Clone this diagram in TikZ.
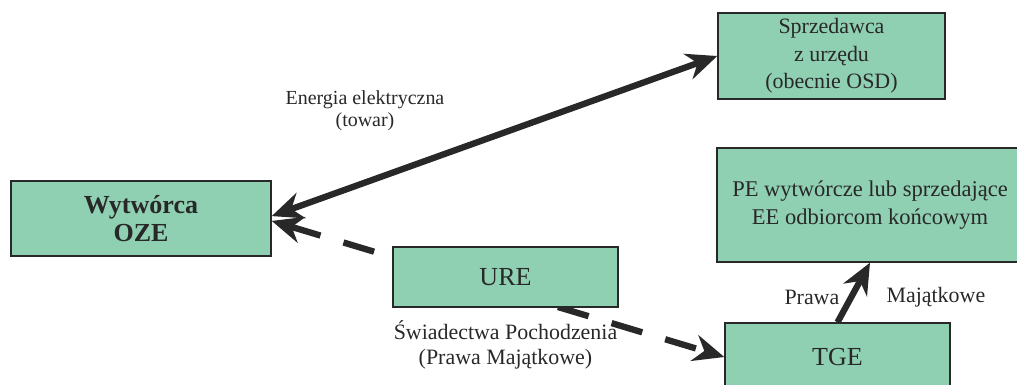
\documentclass[tikz,border=0pt]{standalone}
\usepackage{fontspec}
\setmainfont{Liberation Serif}
\definecolor{boxgreen}{RGB}{143,207,178}
\definecolor{inkgray}{RGB}{40,40,40}
\usetikzlibrary{arrows.meta, positioning}

\begin{document}
\begin{tikzpicture}[node distance=1.8cm, auto, >={Stealth[length=22pt,width=19pt]}]
      \tikzstyle{block} = [rectangle, draw=inkgray, line width=1pt, fill=boxgreen, text=inkgray, align=center, inner sep=0pt, font=\fontsize{15.6}{19.5}\selectfont]
      \tikzstyle{line} = [draw=inkgray, line width=4.5pt]
      \tikzstyle{txt} = [align=center, text=inkgray, font=\fontsize{15.6}{17.8}\selectfont]
      \useasboundingbox (0,0) rectangle (25.425,-9.6);

      \node [block, minimum width=6.5cm, minimum height=1.875cm, font=\bfseries\fontsize{18.5}{20}\selectfont] (wyt) at (3.525,-5.4625) {Wytwórca\\OZE};
      \node [block, right of=wyt, node distance=17.2625cm, yshift=4.0625cm, minimum width=5.675cm, minimum height=2.15cm] (spr) {Sprzedawca\\z urzędu\\(obecnie OSD)};
      \node [block, right of=wyt, node distance=17.4125cm, yshift=-3.4625cm, minimum width=5.625cm, minimum height=1.7cm, font=\fontsize{18.5}{20}\selectfont] (tge) {TGE};
      \node [block, above of=tge, node distance=3.8cm, xshift=0.8125cm, minimum width=7.65cm, minimum height=2.85cm, font=\fontsize{16}{20}\selectfont] (pe) {PE wytwórcze lub sprzedające\\EE odbiorcom końcowym};

      % certyfikaty idą pod URE
      \path [line, <->, dash pattern=on 0.8cm off 0.6cm] ([yshift=-0.06cm]wyt.east) -- (tge.west);

      \node [block, right of=wyt, node distance=9.1125cm, yshift=-1.4625cm, minimum width=5.625cm, minimum height=1.5cm, font=\fontsize{18.5}{20}\selectfont] (ure) {URE};

      \path [line, <->] ([yshift=0.06cm]wyt.east) -- (spr.west);
      \path [line, ->] (tge.north) -- (pe.south);

      \node [txt, right of=wyt, node distance=5.6cm, yshift=2.69cm, font=\fontsize{14.2}{15.6}\selectfont] (energia) {Energia elektryczna\\(towar)};
      \node [txt, below of=ure, node distance=1.7cm] (swiad) {Świadectwa Pochodzenia\\(Prawa Majątkowe)};
      \node [txt, above of=tge, node distance=1.5cm, xshift=-0.64cm] (prawa) {Prawa};
      \node [txt, above of=tge, node distance=1.5cm, xshift=2.46cm] (majatk) {Majątkowe};
    \end{tikzpicture}
\end{document}
